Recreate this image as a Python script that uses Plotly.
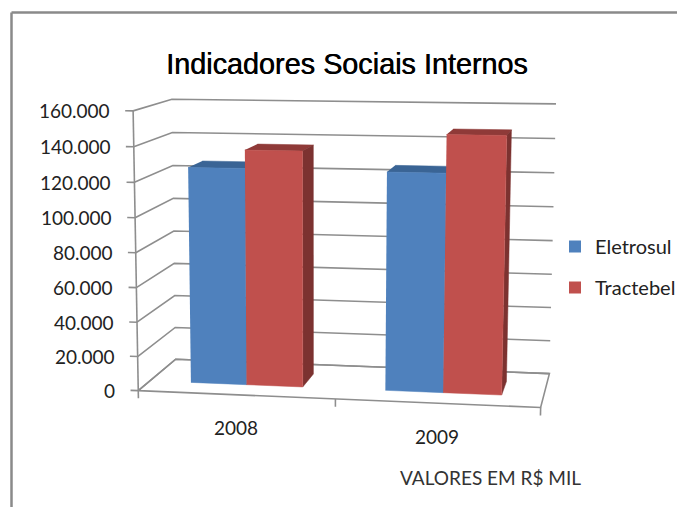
import numpy as np
import plotly.graph_objects as go

categories = ["2008", "2009"]
series_names = ["Eletrosul", "Tractebel"]
eletrosul = [126000, 125500]
tractebel = [136500, 147000]
value_ticks = [0, 20000, 40000, 60000, 80000, 100000, 120000, 140000, 160000]
value_labels = ["0", "20.000", "40.000", "60.000", "80.000", "100.000", "120.000", "140.000", "160.000"]

VMAX = 160000
PAGE_W, PAGE_H, BODY = 685, 507, 8

# Oblique-perspective camera of the pseudo-3D chart box: solved from where the box corners sit
box = np.array([[0,0,0],[2,0,0],[0,1,0],[2,1,0],[0,0,1],[0,1,1],[2,1,1]], float)
seen = np.array([[139,391],[540,408],[175,359],[550,373],[133,110],[172,100],[556,104]], float)
A = []
for (X,Y,Z),(u,v) in zip(box, seen):
    A.append([X,Y,Z,1,0,0,0,0,-u*X,-u*Y,-u*Z,-u])
    A.append([0,0,0,0,X,Y,Z,1,-v*X,-v*Y,-v*Z,-v])
CAM = np.linalg.svd(np.array(A))[2][-1].reshape(3,4)

def proj(c, d, v):
    """category position, depth 0-1, value -> plot x, y"""
    q = CAM @ np.array([c, d, v/VMAX, 1.0])
    return float(q[0]/q[2]), float(q[1]/q[2])

def path(points):
    xy = [proj(*p) for p in points]
    return [a for a,_ in xy], [b for _,b in xy]

fig = go.Figure()
LINE = dict(color="#8E8E8E", width=1.6)

def add_line(points, line=LINE):
    x, y = path(points)
    fig.add_trace(go.Scatter(x=x, y=y, mode="lines", line=line, showlegend=False, hoverinfo="skip"))

# walls
for v in value_ticks:
    add_line([(0,0,v),(0,1,v),(2,1,v)])
    add_line([(-0.04,0,v),(0,0,v)])
# floor and axes
add_line([(0,0,0),(2,0,0),(2,1,0),(0,1,0),(0,0,0)])
add_line([(0,0,0),(0,0,VMAX)])
for c in range(3):
    add_line([(c,0,-4500),(c,0,0)])

def face(points, color):
    x, y = path(points)
    fig.add_trace(go.Scatter(x=x, y=y, mode="lines", fill="toself", fillcolor=color,
                             line=dict(color=color, width=0.5), showlegend=False, hoverinfo="skip"))

def bar(x0, x1, h, front, top, side, d0=0.30, d1=0.70):
    face([(x0,d0,h),(x1,d0,h),(x1,d1,h),(x0,d1,h)], top)
    face([(x1,d0,0),(x1,d1,0),(x1,d1,h),(x1,d0,h)], side)
    face([(x0,d0,0),(x1,d0,0),(x1,d0,h),(x0,d0,h)], front)

BW, MID = 0.29, 0.505
BLUE = ("#4F81BD", "#3A6495", "#3A6495")
RED = ("#C0504D", "#8F3A38", "#7C3230")
for i in range(len(categories)):
    bar(i+MID-BW, i+MID, eletrosul[i], *BLUE)
    bar(i+MID, i+MID+BW, tractebel[i], *RED)

# legend
for name, col in zip(series_names, (BLUE[0], RED[0])):
    fig.add_trace(go.Scatter(x=[None], y=[None], mode="markers", name=name, legendgroup=name,
                             marker=dict(symbol="square", size=12, color=col)))

TICK_FONT = dict(family="Lato", size=19, color="#222")
ann = []
for v, lab in zip(value_ticks, value_labels):
    x, y = proj(0, 0, v)
    ann.append(dict(text=lab, x=x, y=y, xref="x", yref="y", xanchor="right", yanchor="middle",
                    xshift=-21, showarrow=False, font=TICK_FONT))
for i, lab in enumerate(categories):
    x, y = proj(i+0.5, 0, 0)
    ann.append(dict(text=lab, x=x, y=y, xref="x", yref="y", xanchor="center", yanchor="middle",
                    xshift=0, yshift=-33, showarrow=False, font=TICK_FONT))
ann.append(dict(text="VALORES EM R$ MIL", x=490.5, y=477, xref="x", yref="y", showarrow=False,
                font=dict(family="Lato", size=19, color="#333")))
ann.append(dict(text="Indicadores Sociais Internos", x=347, y=64, xref="x", yref="y", showarrow=False,
                font=dict(family="Liberation Sans", size=28.8, color="#000", shadow="0.5px 0 0 #000")))

FRAME = dict(color="#8A8A8A", width=2.5)
fig.update_layout(
    width=PAGE_W-BODY, height=PAGE_H-BODY, margin=dict(l=0, r=0, t=0, b=0),
    paper_bgcolor="white", plot_bgcolor="white", showlegend=True,
    xaxis=dict(range=[BODY, PAGE_W], visible=False, fixedrange=True),
    yaxis=dict(range=[PAGE_H, BODY], visible=False, fixedrange=True),
    legend=dict(x=(555-BODY)/(PAGE_W-BODY), y=1-(227-BODY)/(PAGE_H-BODY), xanchor="left", yanchor="top",
                tracegroupgap=12, bgcolor="rgba(0,0,0,0)", font=dict(family="Lato", size=20, color="#222")),
    annotations=ann,
    shapes=[
        dict(type="line", xref="x", yref="y", x0=11.5, x1=PAGE_W, y0=12.5, y1=12.5, line=FRAME),
        dict(type="line", xref="x", yref="y", x0=11.5, x1=11.5, y0=12.5, y1=PAGE_H, line=FRAME),
    ],
)
fig.write_html("out.html")
